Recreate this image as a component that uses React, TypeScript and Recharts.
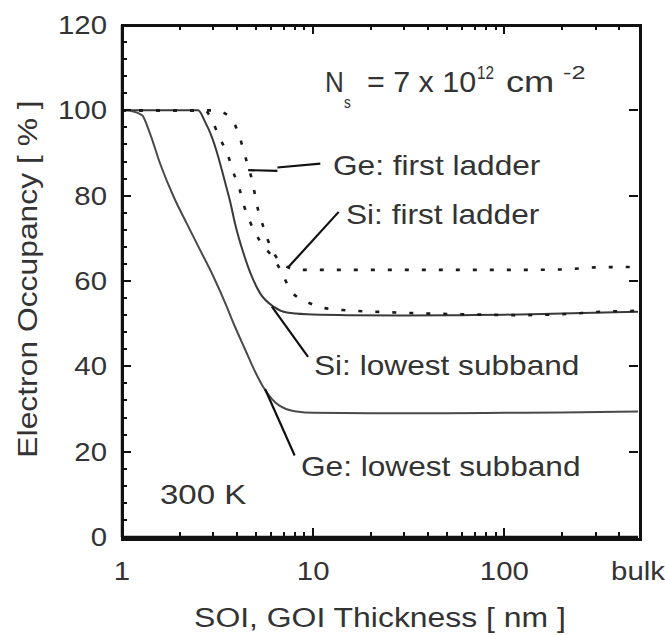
import React from 'react';
import { LineChart, Line, XAxis, YAxis, ReferenceLine } from 'recharts';

// ---- data (thickness in nm, occupancy in %) ----
const siLowestT = [1, 2.5, 2.72, 2.95, 3.13, 3.33, 3.53, 3.68, 3.9, 4.32, 4.78, 5.28, 6.2, 7.28, 9.27, 15, 30, 60, 100, 200, 500];
const siLowestV = [100, 100, 97.3, 93.8, 90.3, 86.0, 81.7, 78.6, 73.5, 66.5, 61.0, 57.1, 54.0, 52.6, 52.2, 52.0, 51.9, 52.0, 52.1, 52.4, 52.8];

const geLowestT = [1, 1.04, 1.27, 1.4, 1.58, 1.86, 2.18, 2.56, 3.01, 3.53, 3.83, 4.4, 5.0, 5.47, 6.38, 7.2, 8.2, 10, 20, 50, 100, 200, 500];
const geLowestV = [100, 100, 98.9, 94.6, 87.6, 79.8, 73.5, 67.3, 61.0, 54.0, 50.1, 44.0, 38.5, 35.2, 31.4, 30.0, 29.4, 29.1, 29.0, 29.0, 29.1, 29.2, 29.4];

const geLadderT = [1, 2.72, 2.95, 3.23, 3.58, 3.82, 4.11, 4.35, 4.68, 5.23, 6.17, 6.88, 7.58, 9.3, 11.3, 14.2, 21, 32, 60, 120, 200, 320, 500];
const geLadderV = [100, 100, 97.7, 93.7, 89.5, 85.5, 81.7, 77.6, 73.8, 69.6, 65.4, 61.9, 57.9, 55.1, 53.7, 53.2, 52.8, 52.5, 52.2, 52.0, 52.2, 52.8, 53.0];

const siLadderT = [1, 3.07, 3.68, 4.11, 4.35, 4.87, 5.05, 5.39, 5.77, 6.31, 7.13, 8.55, 20, 50, 100, 200, 300, 500];
const siLadderV = [100, 100, 98.3, 94.0, 90.1, 82.1, 78.3, 73.8, 69.8, 66.1, 63.5, 62.6, 62.6, 62.6, 62.6, 62.7, 63.2, 63.3];

const xTicks = [1, 2, 3, 4, 5, 6, 7, 8, 9, 10, 20, 30, 40, 50, 60, 70, 80, 90, 100, 200, 300, 400, 500];
const xMajor = [10, 100];
const xLabels: Record<number, string> = { 1: '1', 10: '10', 100: '100', 500: 'bulk' };
const yTicksLeft = [0, 4, 8, 12, 16, 20, 24, 28, 32, 36, 40, 44, 48, 52, 56, 60, 64, 68, 72, 76, 80, 84, 88, 92, 96, 100, 104, 108, 112, 116, 120];
const yTicksMajor = [0, 20, 40, 60, 80, 100, 120];

// leader lines: [t1, v1, t2, v2]
const leaders = [
  [4.57, 86.0, 6.5, 85.8],
  [6.5, 86.6, 10.9, 87.5],
  [7.4, 63.2, 13.6, 76.2],
  [6.08, 54.0, 9.4, 42.2],
  [5.6, 34.7, 8.0, 19.1],
];

const zip = (t: number[], v: number[]) => t.map((x, i) => ({ t: x, v: v[i] }));
const siLowest = zip(siLowestT, siLowestV);
const geLowest = zip(geLowestT, geLowestV);
const geLadder = zip(geLadderT, geLadderV);
const siLadder = zip(siLadderT, siLadderV);

const X_MIN = 1;
const X_MAX = 500;
const Y_MIN = 0;
const Y_MAX = 120;

// chart layout
const W = 665;
const H = 635;
const M = { top: 25, right: 27, bottom: 0, left: 0 };
const Y_AXIS_W = 122;
const X_AXIS_H = 98;
const PL = M.left + Y_AXIS_W;
const PR = W - M.right;
const PT = M.top;
const PB = H - M.bottom - X_AXIS_H;
// same log / linear mapping as the chart's axes, used only for the decorative frame ticks
const fx = (t: number) => PL + ((PR - PL) * Math.log10(t / X_MIN)) / Math.log10(X_MAX / X_MIN);
const fy = (v: number) => PB - ((PB - PT) * (v - Y_MIN)) / (Y_MAX - Y_MIN);

const FONT = '"Liberation Sans", Arial, Helvetica, sans-serif';
const TXT = '#333';
const AX = '#111';
const SX = 1.13;

const Wide = ({ x, y, size, anchor, sx, children }: any) => (
  <g transform={`translate(${x} ${y}) scale(${sx ?? SX} 1)`}>
    <text x={0} y={0} fontSize={size} fontFamily={FONT} fill={TXT} textAnchor={anchor || 'start'}>
      {children}
    </text>
  </g>
);

const LeftLabel = (p: any) => {
  const v = p.payload.value;
  if (!yTicksMajor.includes(v)) return <g />;
  return <Wide x={p.x - 15} y={p.y + 9} size={26} anchor="end">{String(v)}</Wide>;
};

const BottomLabel = (p: any) => {
  const label = xLabels[p.payload.value];
  if (!label) return <g />;
  return <Wide x={p.x} y={p.y + 43} size={26} anchor="middle">{label}</Wide>;
};

type TickBox = { key: string; left: number; top: number; w: number; h: number };
function tickBoxes(): TickBox[] {
  const out: TickBox[] = [];
  yTicksLeft.filter((v) => v > Y_MIN && v < Y_MAX).forEach((v) => {
    const y = fy(v);
    const major = yTicksMajor.includes(v);
    out.push({ key: 'l' + v, left: PL, top: y - 1, w: major ? 9 : 5, h: 2 });
    if (major) out.push({ key: 'r' + v, left: PR - 9, top: y - 1, w: 9, h: 2 });
  });
  xTicks.filter((t) => t > X_MIN && t < X_MAX).forEach((t) => {
    const x = fx(t);
    const len = xMajor.includes(t) ? 9 : 5;
    out.push({ key: 'b' + t, left: x - 1, top: PB - len, w: 2, h: len });
    out.push({ key: 't' + t, left: x - 1, top: PT, w: 2, h: len });
  });
  return out;
}

export default function App() {
  return (
    <div style={{ position: 'absolute', left: 0, top: 0, width: W, height: H, background: '#fff' }}>
      <LineChart width={W} height={H} margin={M}>
        <XAxis
          xAxisId="b"
          dataKey="t"
          type="number"
          scale="log"
          domain={[X_MIN, X_MAX]}
          allowDataOverflow
          ticks={xTicks}
          interval={0}
          height={X_AXIS_H}
          tickSize={0}
          tickMargin={0}
          tickLine={false}
          axisLine={{ stroke: AX, strokeWidth: 2.5 }}
          tick={BottomLabel}
        />
        <YAxis
          yAxisId="l"
          type="number"
          domain={[Y_MIN, Y_MAX]}
          ticks={yTicksLeft}
          interval={0}
          width={Y_AXIS_W}
          tickSize={0}
          tickMargin={0}
          tickLine={false}
          axisLine={{ stroke: AX, strokeWidth: 2.5 }}
          tick={LeftLabel}
        />
        <Line xAxisId="b" yAxisId="l" data={siLowest} dataKey="v" type="monotone" stroke="#3a3a3a" strokeWidth={2} dot={false} isAnimationActive={false} />
        <Line xAxisId="b" yAxisId="l" data={geLowest} dataKey="v" type="monotone" stroke="#4a4a4a" strokeWidth={2} dot={false} isAnimationActive={false} />
        <Line xAxisId="b" yAxisId="l" data={geLadder} dataKey="v" type="monotone" stroke="#1a1a1a" strokeWidth={2.6} strokeDasharray="4 13" dot={false} isAnimationActive={false} />
        <Line xAxisId="b" yAxisId="l" data={siLadder} dataKey="v" type="monotone" stroke="#1a1a1a" strokeWidth={2.6} strokeDasharray="4 13" dot={false} isAnimationActive={false} />
        {leaders.map((s, i) => (
          <ReferenceLine
            key={'l' + i}
            xAxisId="b"
            yAxisId="l"
            segment={[{ x: s[0], y: s[1] }, { x: s[2], y: s[3] }]}
            stroke="#111"
            strokeWidth={2.2}
            ifOverflow="visible"
          />
        ))}
      </LineChart>
      {/* plot frame and inward ticks as plain HTML boxes */}
      <div
        style={{
          position: 'absolute',
          left: PL - 1,
          top: PT - 1,
          width: PR - PL - 1,
          height: PB - PT - 1,
          border: `3px solid ${AX}`,
          boxSizing: 'content-box',
          pointerEvents: 'none',
          marginLeft: -0.5,
          marginTop: -0.5,
        }}
      />
      {tickBoxes().map((b) => (
        <div
          key={b.key}
          style={{ position: 'absolute', left: b.left, top: b.top, width: b.w, height: b.h, background: AX, pointerEvents: 'none' }}
        />
      ))}
      <svg width={W} height={H} style={{ position: 'absolute', left: 0, top: 0, pointerEvents: 'none' }}>
        <Wide x={325} y={92} size={29} sx={0.9}>N</Wide>
        <Wide x={344} y={108} size={17} sx={0.8}>s</Wide>
        <Wide x={367} y={92} size={29} sx={1.05}>= 7 x 10</Wide>
        <Wide x={477} y={79} size={18} sx={0.85}>12</Wide>
        <Wide x={506} y={92} size={29} sx={1.25}>cm</Wide>
        <Wide x={563} y={79} size={18} sx={1.4}>-2</Wide>
        <Wide x={333} y={175} size={28}>Ge: first ladder</Wide>
        <Wide x={346} y={224} size={28}>Si: first ladder</Wide>
        <Wide x={314} y={375} size={28}>Si: lowest subband</Wide>
        <Wide x={301} y={476} size={28}>Ge: lowest subband</Wide>
        <Wide x={160} y={504} size={28} sx={1.18}>300 K</Wide>
        <Wide x={380} y={627} size={28} anchor="middle" sx={1.14}>SOI, GOI Thickness [ nm ]</Wide>
        <g transform="translate(37 279) rotate(-90) scale(1.137 1)">
          <text x={0} y={0} fontSize={28} fontFamily={FONT} fill={TXT} textAnchor="middle">
            Electron Occupancy [ % ]
          </text>
        </g>
      </svg>
    </div>
  );
}
